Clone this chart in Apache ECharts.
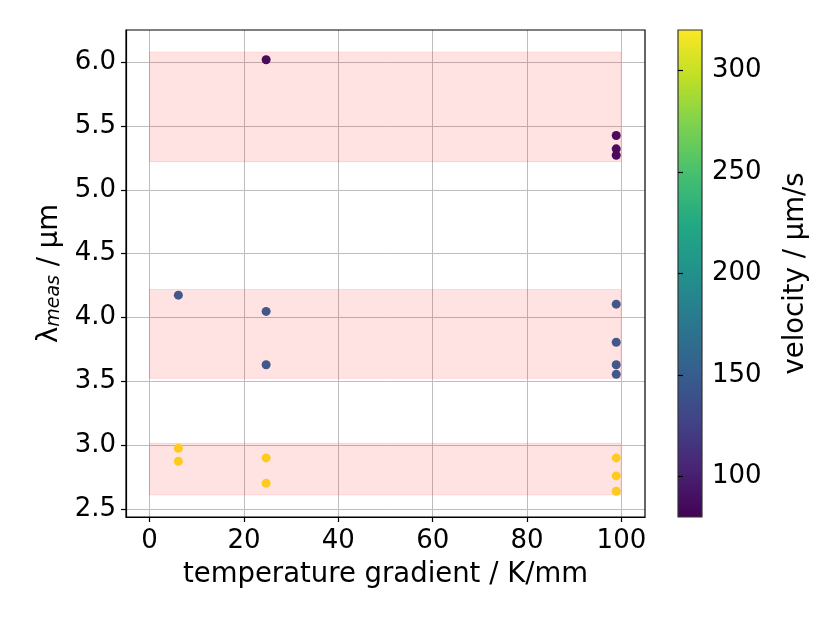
<!DOCTYPE html>
<html>
<head>
<meta charset="utf-8">
<script src="https://cdn.jsdelivr.net/npm/echarts@6/dist/echarts.min.js"></script>
<style>html,body{margin:0;padding:0;background:#fff}#c{width:830px;height:623px}</style>
</head>
<body>
<div id="c"></div>
<script>
// ---- data ----
// velocity ~80 µm/s group (dark purple)
const gradSlow = [24.7, 98.9, 98.9, 98.9];
const lamSlow  = [6.016, 5.424, 5.32, 5.27];
// velocity ~140 µm/s group (blue)
const gradMid = [6.1, 24.7, 24.7, 98.9, 98.9, 98.9, 98.9];
const lamMid  = [4.176, 4.049, 3.632, 4.106, 3.808, 3.632, 3.557];
// velocity ~320 µm/s group (yellow)
const gradFast = [6.1, 6.1, 24.7, 24.7, 98.9, 98.9, 98.9];
const lamFast  = [2.979, 2.878, 2.904, 2.706, 2.904, 2.763, 2.643];
// shaded bands (λ ranges)
const bandLow  = [5.22, 3.526, 2.615];
const bandHigh = [6.076, 4.22, 3.018];
const bandX    = [0, 99.8];
// ticks
const xTicks  = [0, 20, 40, 60, 80, 100];
const yTicks  = [2.5, 3.0, 3.5, 4.0, 4.5, 5.0, 5.5, 6.0];
const cbTicks = [100, 150, 200, 250, 300];
const cbRange = [80, 320];

const FONT = 'DejaVu Sans';
const viridis = ['#440154','#482475','#414487','#355f8d','#2a788e','#21918c','#22a884','#44bf70','#7ad151','#bddf26','#fde725'];
const zip = (a, b) => a.map((v, i) => [v, b[i]]);

const chart = echarts.init(document.getElementById('c'), null, {renderer: 'canvas'});

const tickLabel = {fontFamily: FONT, fontSize: 26, color: '#000'};
const gridColor = '#bdbdbd';

const option = {
  animation: false,
  backgroundColor: '#fff',
  grid: [
    {left: 126, top: 30, width: 519, height: 487, show: true, borderColor: '#000', borderWidth: 1.2, backgroundColor: 'transparent', z: 3},
    {left: 678, top: 30, width: 24, height: 487, show: true, borderColor: '#333', borderWidth: 1.2,
     backgroundColor: {type: 'linear', x: 0, y: 0, x2: 0, y2: 1,
       colorStops: viridis.slice().reverse().map((c, i) => ({offset: i / (viridis.length - 1), color: c}))}}
  ],
  xAxis: [
    {gridIndex: 0, type: 'value', min: -5, max: 105,
     name: 'temperature gradient / K/mm', nameLocation: 'middle', nameGap: 44,
     nameTextStyle: {fontFamily: FONT, fontSize: 27.5, color: '#000'},
     axisLine: {show: true, onZero: false, lineStyle: {color: '#000', width: 1.2}},
     axisTick: {show: true, length: 5, customValues: xTicks, lineStyle: {color: '#000', width: 1.2}},
     axisLabel: Object.assign({margin: 11, customValues: xTicks, formatter: v => String(v)}, tickLabel),
     splitLine: {show: true, lineStyle: {color: gridColor, width: 1}}},
    {gridIndex: 1, type: 'value', min: 0, max: 1, show: false}
  ],
  yAxis: [
    {gridIndex: 0, type: 'value', min: 2.442, max: 6.249,
     name: '{a|λ}{s|meas}{a| / µm}', nameLocation: 'middle', nameGap: 62, nameRotate: 90,
     nameTextStyle: {fontFamily: FONT, color: '#000',
       rich: {
         a: {fontFamily: FONT, fontSize: 27.5, lineHeight: 34, verticalAlign: 'bottom', color: '#000'},
         s: {fontFamily: FONT, fontSize: 19, fontStyle: 'italic', lineHeight: 14, verticalAlign: 'bottom', color: '#000'}
       }},
     axisLine: {show: true, onZero: false, lineStyle: {color: '#000', width: 1.2}},
     axisTick: {show: true, length: 5, customValues: yTicks, lineStyle: {color: '#000', width: 1.2}},
     axisLabel: Object.assign({margin: 10, customValues: yTicks, formatter: v => v.toFixed(1)}, tickLabel),
     splitLine: {show: true, lineStyle: {color: gridColor, width: 1}}},
    {gridIndex: 1, type: 'value', position: 'right', min: cbRange[0], max: cbRange[1],
     name: 'velocity / µm/s', nameLocation: 'middle', nameGap: 80, nameRotate: 90,
     nameTextStyle: {fontFamily: FONT, fontSize: 27.5, color: '#000'},
     axisLine: {show: false},
     axisTick: {show: true, length: 5, customValues: cbTicks, lineStyle: {color: '#000', width: 1.2}},
     axisLabel: Object.assign({margin: 10, customValues: cbTicks, formatter: v => String(v)}, tickLabel),
     splitLine: {show: false}}
  ],
  series: [
    {type: 'scatter', xAxisIndex: 0, yAxisIndex: 0, data: [], silent: true, z: 1,
     markArea: {silent: true,
       itemStyle: {color: 'rgba(255,0,0,0.11)', borderColor: 'rgba(255,0,0,0.12)', borderWidth: 1},
       data: bandLow.map((lo, i) => [{xAxis: bandX[0], yAxis: lo}, {xAxis: bandX[1], yAxis: bandHigh[i]}])}},
    {type: 'scatter', name: 'slow', xAxisIndex: 0, yAxisIndex: 0, symbolSize: 9, z: 5,
     itemStyle: {color: '#4a0c5b', opacity: 1}, data: zip(gradSlow, lamSlow)},
    {type: 'scatter', name: 'mid', xAxisIndex: 0, yAxisIndex: 0, symbolSize: 9, z: 5,
     itemStyle: {color: '#42588a', opacity: 1}, data: zip(gradMid, lamMid)},
    {type: 'scatter', name: 'fast', xAxisIndex: 0, yAxisIndex: 0, symbolSize: 9, z: 5,
     itemStyle: {color: '#fdcb20', opacity: 1}, data: zip(gradFast, lamFast)}
  ]
};
chart.setOption(option);
</script>
</body>
</html>
